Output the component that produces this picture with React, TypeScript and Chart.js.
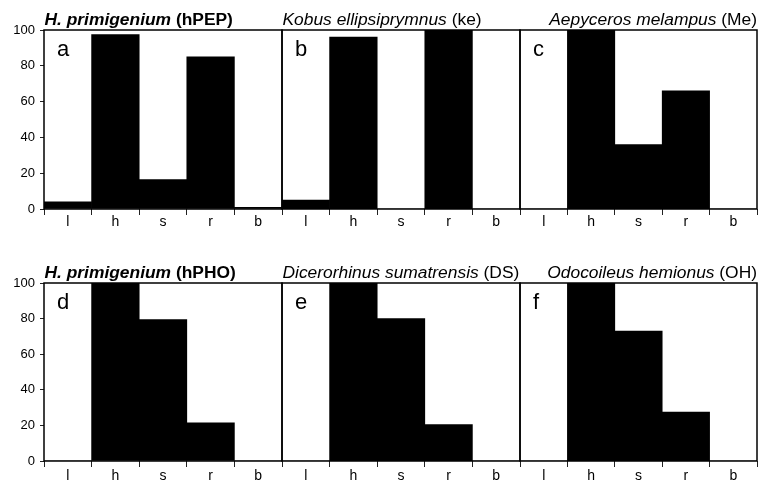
import React, { useEffect, useRef } from "react";
import { Chart, registerables } from "chart.js";

Chart.register(...registerables);

const FONT = '"Liberation Sans", Arial, Helvetica, sans-serif';

// ---- data ----
const categories = ["l", "h", "s", "r", "b"];
const yTicks = [0, 20, 40, 60, 80, 100];

const valuesA = [4, 97.5, 16.5, 85, 1];
const valuesB = [5, 96, 0, 100, 0];
const valuesC = [0, 100, 36, 66, 0];
const valuesD = [0, 100, 79.5, 21.5, 0];
const valuesE = [0, 100, 80, 20.5, 0];
const valuesF = [0, 100, 73, 27.5, 0];

const panelLetters = ["a", "b", "c", "d", "e", "f"];
const titleNames = [
  "H. primigenium",
  "Kobus ellipsiprymnus",
  "Aepyceros melampus",
  "H. primigenium",
  "Dicerorhinus sumatrensis",
  "Odocoileus hemionus",
];
const titleCodes = [" (hPEP)", " (ke)", " (Me)", " (hPHO)", " (DS)", " (OH)"];
const titleBold = [true, false, false, true, false, false];
const titleAlign = ["left", "left", "right", "left", "left", "right"];
const seriesValues = [valuesA, valuesB, valuesC, valuesD, valuesE, valuesF];

// ---- layout ----
type Layout = {
  left: number;
  top: number;
  width: number;
  height: number;
  padding: { top: number; left: number; right: number; bottom: number };
  showY: boolean;
  labelPad: number;
};

const layouts: Layout[] = [
  { left: 0, top: 0, width: 284, height: 232, padding: { top: 30, left: 0, right: 2, bottom: 3 }, showY: true, labelPad: 0 },
  { left: 280, top: 0, width: 242, height: 232, padding: { top: 30, left: 2, right: 2, bottom: 3 }, showY: false, labelPad: 0 },
  { left: 518, top: 0, width: 240, height: 232, padding: { top: 30, left: 2, right: 1, bottom: 3 }, showY: false, labelPad: 0 },
  { left: 0, top: 250, width: 284, height: 234, padding: { top: 33, left: 0, right: 2, bottom: 3 }, showY: true, labelPad: 2 },
  { left: 280, top: 250, width: 242, height: 234, padding: { top: 33, left: 2, right: 2, bottom: 3 }, showY: false, labelPad: 2 },
  { left: 518, top: 250, width: 240, height: 234, padding: { top: 33, left: 2, right: 1, bottom: 3 }, showY: false, labelPad: 2 },
];

const decorPlugin = {
  id: "decor",
  afterDraw(chart: any, _args: any, opts: any) {
    const { ctx } = chart;
    const { left, top, right, bottom } = chart.chartArea;
    ctx.save();
    // frame
    ctx.strokeStyle = "#000";
    ctx.lineWidth = 1.5;
    ctx.strokeRect(left, top, right - left, bottom - top);
    // panel letter
    ctx.fillStyle = "#000";
    ctx.textAlign = "left";
    ctx.textBaseline = "alphabetic";
    ctx.font = `22px ${FONT}`;
    ctx.fillText(opts.letter, left + 13, top + 26);
    // title
    const weight = opts.bold ? "bold " : "";
    const f1 = `italic ${weight}17.4px ${FONT}`;
    const f2 = `${weight}17.4px ${FONT}`;
    ctx.font = f1;
    const w1 = ctx.measureText(opts.name).width;
    ctx.font = f2;
    const w2 = ctx.measureText(opts.code).width;
    const x = opts.align === "right" ? right - w1 - w2 : left + 0.5;
    const y = top - 5;
    ctx.font = f1;
    ctx.fillText(opts.name, x, y);
    ctx.font = f2;
    ctx.fillText(opts.code, x + w1, y);
    ctx.restore();
  },
};

function Panel({ index }: { index: number }) {
  const ref = useRef<HTMLCanvasElement | null>(null);
  const lay = layouts[index];
  useEffect(() => {
    if (!ref.current) return;
    const chart = new Chart(ref.current, {
      type: "bar",
      data: {
        labels: categories,
        datasets: [
          {
            data: seriesValues[index],
            backgroundColor: "#000",
            borderWidth: 0,
            barPercentage: 1,
            categoryPercentage: 1,
          },
        ],
      },
      options: {
        animation: false,
        responsive: false,
        events: [],
        layout: { padding: lay.padding },
        plugins: {
          legend: { display: false },
          tooltip: { enabled: false },
          decor: {
            letter: panelLetters[index],
            name: titleNames[index],
            code: titleCodes[index],
            bold: titleBold[index],
            align: titleAlign[index],
          },
        } as any,
        scales: {
          x: {
            grid: {
              offset: true,
              drawOnChartArea: false,
              drawTicks: true,
              tickLength: 6,
              color: "#222",
              lineWidth: 1,
            },
            border: { display: false },
            ticks: {
              color: "#000",
              font: { size: 14, family: FONT, lineHeight: 1 },
              padding: lay.labelPad,
              maxRotation: 0,
              autoSkip: false,
            },
            afterFit: (s: any) => {
              s.height = 20;
            },
          },
          y: {
            display: lay.showY,
            min: 0,
            max: 100,
            afterBuildTicks: (s: any) => {
              s.ticks = yTicks.map((v) => ({ value: v }));
            },
            ticks: {
              color: "#000",
              font: { size: 13, family: FONT },
              padding: 5,
            },
            grid: {
              drawOnChartArea: false,
              drawTicks: true,
              tickLength: 4,
              color: "#222",
            },
            border: { display: false },
            afterFit: (s: any) => {
              s.width = lay.showY ? 44 : 0;
            },
          },
        },
      },
      plugins: [decorPlugin],
    } as any);
    return () => chart.destroy();
  }, [index]);
  return (
    <canvas
      ref={ref}
      width={lay.width}
      height={lay.height}
      style={{ position: "absolute", left: lay.left, top: lay.top, width: lay.width, height: lay.height }}
    />
  );
}

export default function App() {
  return (
    <div
      style={{
        position: "absolute",
        left: 0,
        top: 0,
        width: 758,
        height: 490,
        background: "#fff",
        overflow: "hidden",
      }}
    >
      {layouts.map((_, i) => (
        <Panel key={i} index={i} />
      ))}
    </div>
  );
}
